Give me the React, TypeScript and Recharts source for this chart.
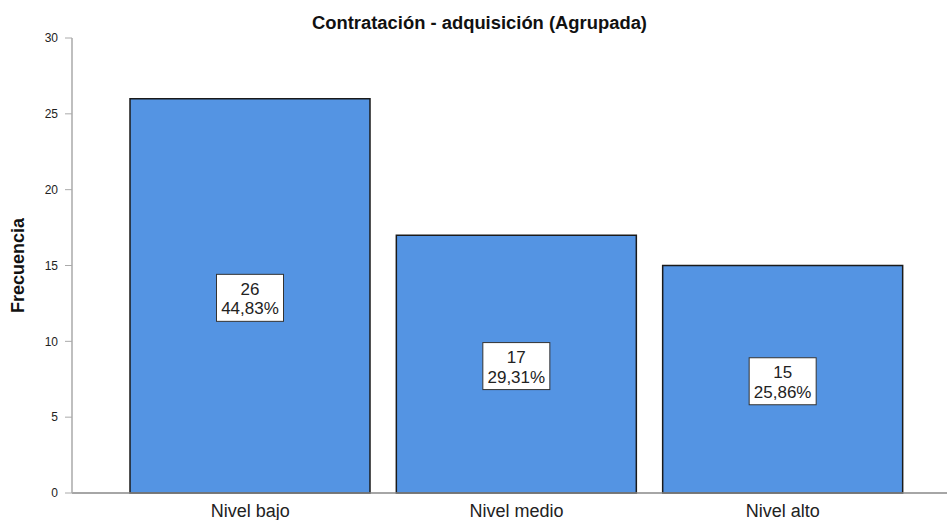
import React from "react";
import { BarChart, Bar, XAxis, YAxis, LabelList, Label, Customized } from "recharts";

const categories = ["Nivel bajo", "Nivel medio", "Nivel alto"];
const frequencies = [26, 17, 15];
const percentLabels = ["44,83%", "29,31%", "25,86%"];
const yTicks = [0, 5, 10, 15, 20, 25, 30];
const title = "Contratación - adquisición (Agrupada)";
const yTitle = "Frecuencia";

const data = categories.map((c, i) => ({ name: c, value: frequencies[i], pct: percentLabels[i] }));

const FONT = "'Liberation Sans', Arial, sans-serif";

const BoxLabel = (props: any) => {
  const { x, y, width, height, index, value } = props;
  const cx = Number(x) + Number(width) / 2;
  const cy = Number(y) + Number(height) / 2 + 2;
  return (
    <g>
      <rect x={cx - 33.5} y={cy - 23.5} width={67} height={47} fill="#ffffff" stroke="#333333" strokeWidth={1} />
      <text x={cx} y={cy - 3} textAnchor="middle" fontSize={17} fontFamily={FONT} fill="#222">
        {value}
      </text>
      <text x={cx} y={cy + 16.5} textAnchor="middle" fontSize={17} fontFamily={FONT} fill="#222">
        {percentLabels[index]}
      </text>
    </g>
  );
};

const Title = () => (
  <text x={479.5} y={29} textAnchor="middle" fontSize={18} fontWeight="bold" fontFamily={FONT} fill="#111" textLength={335} lengthAdjust="spacingAndGlyphs">
    {title}
  </text>
);

const YTitle = (props: any) => {
  const vb = props.viewBox || { x: 0, y: 38, width: 72, height: 455 };
  const x = vb.x + 24;
  const y = vb.y + vb.height / 2;
  return (
    <text x={x} y={y} transform={`rotate(-90, ${x}, ${y})`} textAnchor="middle" fontSize={18} fontWeight="bold" fontFamily={FONT} fill="#111">
      {yTitle}
    </text>
  );
};

export default function App() {
  return (
    <div style={{ position: "absolute", left: 0, top: 0, width: 947, height: 520, background: "#fff" }}>
      <BarChart width={947} height={520} data={data} margin={{ top: 38, right: 0, bottom: 0, left: 0 }}>
        <XAxis
          dataKey="name"
          height={27}
          padding={{ left: 45, right: 31 }}
          axisLine={{ stroke: "#888888", strokeWidth: 1.5 }}
          tickLine={false}
          tickSize={0}
          tickMargin={11}
          tick={{ fontSize: 18, fontFamily: FONT, fill: "#222" }}
          interval={0}
        />
        <YAxis
          width={72}
          domain={[0, 30]}
          ticks={yTicks}
          interval={0}
          axisLine={{ stroke: "#aaaaaa", strokeWidth: 1.5 }}
          tickLine={{ stroke: "#aaaaaa" }}
          tickSize={7}
          tickMargin={7}
          tick={{ fontSize: 12, fontFamily: FONT, fill: "#222" }}
        >
          <Label content={<YTitle />} />
        </YAxis>
        <Bar dataKey="value" barSize={240} fill="#5494e3" stroke="#1a1a1a" strokeWidth={1.5} isAnimationActive={false}>
          <LabelList dataKey="value" content={<BoxLabel />} />
        </Bar>
        <Customized component={Title} />
      </BarChart>
    </div>
  );
}
